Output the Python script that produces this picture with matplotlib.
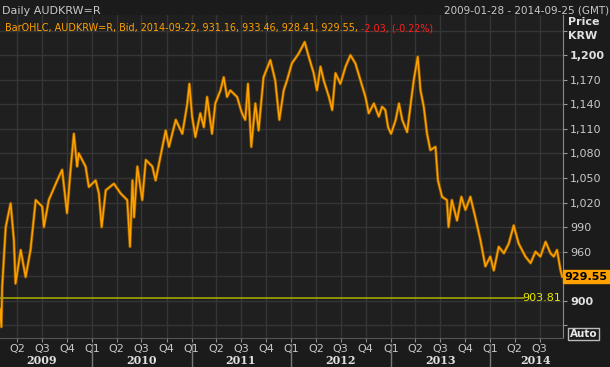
import pandas as pd
import numpy as np
import matplotlib
matplotlib.use('Agg')
import matplotlib.pyplot as plt
from matplotlib.lines import Line2D

plt.rcParams['font.family'] = ['DejaVu Sans']

# AUDKRW daily close
dates = ['2009-01-28', '2009-02-02', '2009-02-05', '2009-02-18', '2009-03-08', '2009-03-20',
         '2009-03-26', '2009-04-14', '2009-05-02', '2009-05-20', '2009-06-08', '2009-07-02',
         '2009-07-08', '2009-07-26', '2009-08-26', '2009-09-13', '2009-10-01', '2009-10-14',
         '2009-10-26', '2009-11-07', '2009-11-13', '2009-12-08', '2009-12-20',
         '2010-01-14', '2010-01-26', '2010-02-05', '2010-02-20', '2010-03-22', '2010-04-16',
         '2010-05-10', '2010-05-20', '2010-05-29', '2010-06-04', '2010-06-16', '2010-07-04',
         '2010-07-17', '2010-08-10', '2010-08-22', '2010-09-16', '2010-09-28', '2010-10-10',
         '2010-11-04', '2010-11-28', '2010-12-16', '2010-12-24',
         '2011-01-03', '2011-01-15', '2011-02-02', '2011-02-15', '2011-02-27', '2011-03-17',
         '2011-03-29', '2011-04-17', '2011-04-29', '2011-05-11', '2011-05-23', '2011-06-17',
         '2011-07-05', '2011-07-17', '2011-07-27', '2011-08-08', '2011-08-23', '2011-09-04',
         '2011-09-22', '2011-10-17', '2011-11-04', '2011-11-19', '2011-12-05', '2011-12-17',
         '2012-01-04', '2012-01-29', '2012-02-20', '2012-03-06', '2012-03-24', '2012-04-05',
         '2012-04-18', '2012-04-30', '2012-05-19', '2012-05-31', '2012-06-12', '2012-06-30',
         '2012-07-19', '2012-08-06', '2012-08-24', '2012-09-12', '2012-09-30', '2012-10-12',
         '2012-10-31', '2012-11-18', '2012-11-30', '2012-12-12', '2012-12-22',
         '2013-01-02', '2013-01-19', '2013-01-31', '2013-02-12', '2013-03-02', '2013-03-14',
         '2013-03-26', '2013-04-10', '2013-04-20', '2013-05-02', '2013-05-14', '2013-05-26',
         '2013-06-14', '2013-06-23', '2013-07-08', '2013-07-26', '2013-08-01', '2013-08-13',
         '2013-09-01', '2013-09-17', '2013-10-02', '2013-10-20', '2013-11-07', '2013-11-26',
         '2013-12-14', '2014-01-01',
         '2014-01-14', '2014-02-01', '2014-02-20', '2014-03-10', '2014-03-28', '2014-04-15',
         '2014-05-10', '2014-05-29', '2014-06-16', '2014-07-04', '2014-07-23', '2014-08-10',
         '2014-08-22', '2014-09-03', '2014-09-16', '2014-09-22']
close = [890, 868, 917, 990, 1019, 974,
         921, 962, 929, 962, 1023, 1015,
         990, 1023, 1047, 1060, 1007, 1060,
         1104, 1064, 1080, 1064, 1039,
         1047, 1031, 990, 1035, 1043, 1031,
         1023, 966, 1047, 1002, 1064, 1023,
         1072, 1064, 1047, 1088, 1108, 1088,
         1121, 1104, 1140, 1165,
         1125, 1100, 1129, 1112, 1149, 1104,
         1141, 1157, 1173, 1149, 1157, 1149,
         1129, 1121, 1165, 1088, 1141, 1108,
         1173, 1194, 1169, 1121, 1157, 1169,
         1190, 1202, 1216, 1198, 1178, 1157,
         1186, 1169, 1149, 1133, 1178, 1165,
         1186, 1200, 1190, 1169, 1149, 1129,
         1141, 1125, 1137, 1133, 1112,
         1104, 1121, 1141, 1121, 1106, 1137,
         1169, 1198, 1157, 1137, 1104, 1084,
         1088, 1047, 1027, 1023, 990, 1023,
         998, 1027, 1011, 1027, 1002, 974,
         942, 954,
         937, 966, 958, 970, 992, 970,
         954, 946, 960, 954, 972, 958,
         954, 962, 937, 929.55]

ref_level = 903.81
last_price = 929.55
yticks = [870, 900, 930, 960, 990, 1020, 1050, 1080, 1110, 1140, 1170, 1200, 1230]
years = [2009, 2010, 2011, 2012, 2013, 2014]
year_mid = ['2009-07-01', '2010-07-01', '2011-07-01', '2012-07-01', '2013-07-01', '2014-06-15']

bg = '#1f1f1f'
fg = '#c8c8c8'
orange = '#ffa200'

df = pd.DataFrame({'date': pd.to_datetime(dates), 'close': close})

fig = plt.figure(figsize=(6.1, 3.67), dpi=100, facecolor='#1b1b1b')
ax = fig.add_axes([0.0, 0.079, 0.923, 0.88], facecolor=bg)

ax.plot(df['date'], df['close'], color='#8a5800', lw=2.2)
ax.plot(df['date'], df['close'], color=orange, lw=1.1)
ax.axhline(ref_level, color='#a5a500', lw=1.2, xmax=0.93)

ax.set_xlim(pd.Timestamp('2009-01-28'), pd.Timestamp('2014-09-25'))
ax.set_ylim(854.5, 1249)

# quarter ticks
qs = pd.date_range('2009-04-01', '2014-09-01', freq='QS')
ax.set_xticks(qs)
ax.set_xticklabels(['Q%d' % ((d.month - 1) // 3 + 1) for d in qs])
ax.tick_params(axis='x', colors='#888888', labelcolor=fg, labelsize=8, length=3, pad=1)

ax.yaxis.tick_right()
ax.set_yticks(yticks)
ax.set_yticklabels(['' if v in (870, 930, 1230) else '{:,}'.format(v) for v in yticks])
ax.tick_params(axis='y', colors='#999999', labelcolor=fg, labelsize=8, length=3, pad=2)
for lab in ax.get_yticklabels():
    if lab.get_text() in ('1,200', '900'):
        lab.set_fontweight('bold')
        lab.set_color('#e0e0e0')

ax.grid(True, color='#353535', lw=1)
ax.set_axisbelow(True)
for s in ['left', 'top']:
    ax.spines[s].set_visible(False)
ax.spines['right'].set_color('#8a8a8a')
ax.spines['bottom'].set_color('#555555')

# years under the quarters
trans = ax.get_xaxis_transform()
for y, m in zip(years, year_mid):
    ax.text(pd.Timestamp(m), -0.071, str(y), transform=trans, ha='center', va='center',
            color='#e0e0e0', fontsize=8, fontweight='bold', family='DejaVu Serif')
    if y > 2009:
        ax.add_line(Line2D([pd.Timestamp('%d-01-01' % y)] * 2, [-0.02, -0.1], transform=trans,
                           color='#777777', lw=1, clip_on=False))

# header texts
fig.text(0.004, 0.985, 'Daily AUDKRW=R', color=fg, fontsize=8, va='top', ha='left')
fig.text(0.998, 0.985, '2009-01-28 - 2014-09-25 (GMT)', color=fg, fontsize=7.5, va='top', ha='right')
t1 = ax.text(0.009, 0.975, 'BarOHLC, AUDKRW=R, Bid, 2014-09-22, 931.16, 933.46, 928.41, 929.55, ',
             transform=ax.transAxes, color=orange, fontsize=6.9, va='top', ha='left')
ax.annotate('-2.03, (-0.22%)', xy=(1, 0), xycoords=t1, va='bottom', ha='left',
            color='#ff2020', fontsize=6.9)

fig.text(0.931, 0.94, 'Price', color='#e0e0e0', fontsize=8, fontweight='bold', va='center')
fig.text(0.931, 0.902, 'KRW', color='#e0e0e0', fontsize=8, fontweight='bold', va='center')

ax.text(1.003, last_price, '%.2f' % last_price, transform=ax.get_yaxis_transform(),
        color='black', fontsize=8, fontweight='bold', va='center', ha='left',
        bbox=dict(boxstyle='square,pad=0.12', fc=orange, ec=orange), clip_on=False)
ax.text(0.997, ref_level, '%.2f' % ref_level, transform=ax.get_yaxis_transform(),
        color='#e8e800', fontsize=8, va='center', ha='right')

fig.text(0.934, 0.09, 'Auto', color='#e8e8e8', fontsize=7.5, fontweight='bold', va='center',
         bbox=dict(boxstyle='square,pad=0.12', fc='#1b1b1b', ec='#bbbbbb', lw=1))

fig.savefig('out.png', dpi=100, facecolor=fig.get_facecolor())
